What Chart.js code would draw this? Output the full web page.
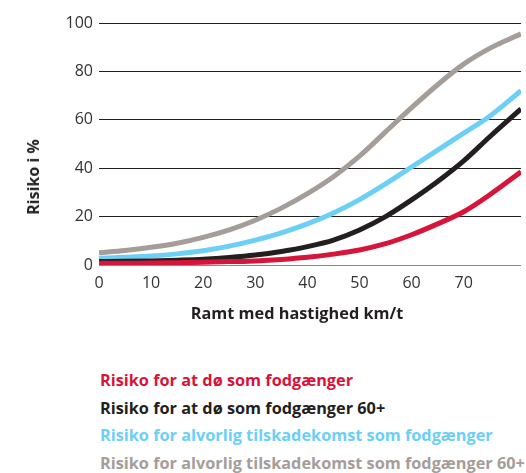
<!DOCTYPE html>
<html><head><meta charset="utf-8">
<script src="https://cdn.jsdelivr.net/npm/chart.js@4/dist/chart.umd.min.js"></script>
<style>
html,body{margin:0;padding:0;background:#fff;}
body{width:526px;height:473px;position:relative;overflow:hidden;font-family:"Open Sans",Lato,sans-serif;}
#wrap{position:absolute;left:0;top:0;width:526px;height:330px;}
#ytitle{position:absolute;left:33px;top:177px;transform:translate(-50%,-50%) rotate(-90deg);font-weight:bold;font-size:16px;color:#231f20;white-space:nowrap;}
#xtitle{position:absolute;left:297px;top:313px;transform:translate(-50%,-50%);font-weight:bold;font-size:16.3px;color:#231f20;white-space:nowrap;}
#legend{position:absolute;left:100px;top:367px;font-weight:bold;font-size:16.3px;line-height:27.7px;white-space:nowrap;}
</style></head>
<body>
<div id="wrap"><canvas id="c" width="526" height="330"></canvas></div>
<div id="ytitle">Risiko i %</div>
<div id="xtitle">Ramt med hastighed km/t</div>
<div id="legend"></div>
<script>
const speeds = [0,5,10,15,20,25,30,35,40,45,50,55,60,65,70,75,81];
const deathAll = [0.7,0.75,0.8,0.95,1.1,1.4,1.7,2.3,3.2,4.5,6.2,8.8,12.5,17,22,29,38.5];
const death60 = [1.4,1.5,1.7,2,2.4,3.1,4.1,5.6,7.6,10.3,14.5,20,26.9,34.5,43,53,64.5];
const injuryAll = [2.8,3.2,3.7,4.6,5.9,7.8,10.3,13.3,17,21.5,27,33.5,40.5,47.5,54.5,61.5,72];
const injury60 = [5.1,6,7.3,9,11.4,14.5,18.5,23.5,29.5,36.5,45,55,65,74.5,83,89.5,95.5];
const seriesNames = ["Risiko for at dø som fodgænger","Risiko for at dø som fodgænger 60+","Risiko for alvorlig tilskadekomst som fodgænger","Risiko for alvorlig tilskadekomst som fodgænger 60+"];
const seriesColors = ["#d6153a","#231f20","#6ccff6","#a59d99"];
const yTicks = [0,20,40,60,80,100];
const xTicks = [0,10,20,30,40,50,60,70];

const allSeries = [deathAll, death60, injuryAll, injury60];
const datasets = allSeries.map((vals,i)=>({
  label: seriesNames[i],
  data: speeds.map((s,j)=>({x:s,y:vals[j]})),
  borderColor: seriesColors[i],
  borderWidth: 5,
  pointRadius: 0,
  fill: false,
  cubicInterpolationMode: 'monotone',
  borderCapStyle: 'butt',
  order: i
})).reverse();

new Chart(document.getElementById('c'), {
  type: 'line',
  data: { datasets },
  options: {
    responsive: false,
    animation: false,
    layout: { padding: { top: 23, right: 5, left: 0, bottom: 0 } },
    plugins: { legend: { display: false }, tooltip: { enabled: false } },
    scales: {
      x: {
        type: 'linear', min: 0, max: 81,
        afterBuildTicks: s => { s.ticks = xTicks.map(v=>({value:v})); },
        ticks: { color: '#333', font: { family: 'Open Sans', size: 16 }, padding: 9, maxRotation: 0, autoSkip: false },
        grid: { display: false, drawTicks: false },
        border: { display: false },
        afterFit: s => { s.height = 65; }
      },
      y: {
        min: 0, max: 100,
        afterBuildTicks: s => { s.ticks = yTicks.map(v=>({value:v})); },
        ticks: { color: '#333', font: { family: 'Open Sans', size: 16 }, padding: 6 },
        grid: { color: ctx => ctx.tick && ctx.tick.value === 0 ? '#8a8a8a' : '#231f20', lineWidth: 1, drawTicks: false },
        border: { display: false },
        afterFit: s => { s.width = 99; }
      }
    }
  }
});

const lg = document.getElementById('legend');
seriesNames.forEach((n,i)=>{ const d=document.createElement('div'); d.textContent=n; d.style.color=seriesColors[i]; lg.appendChild(d); });
</script>
</body></html>
